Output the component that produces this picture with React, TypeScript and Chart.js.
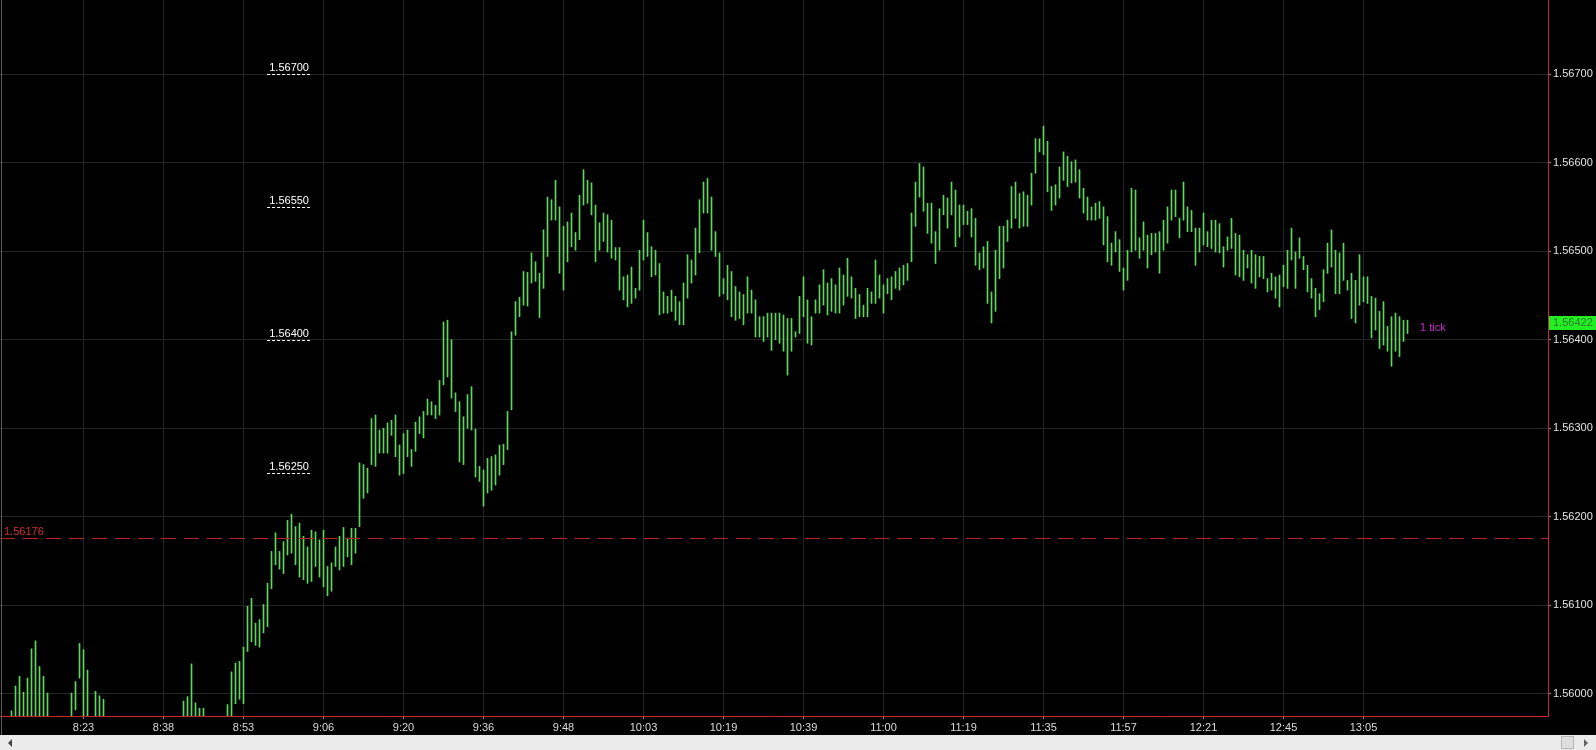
import React, { useEffect, useRef } from 'react';
import { Chart, registerables } from 'chart.js';

Chart.register(...registerables);

// ---- data (1 bar = one slot on the x axis) ----
const barHigh: (number | null)[] = [
  null, null, 1.55981, 1.56009, 1.56020, 1.56002, 1.56018, 1.56051, 1.56060, 1.56031,
  1.56020, 1.56001, null, null, null, null, null, 1.56001, 1.56014, 1.56057,
  1.56050, 1.56027, null, 1.56003, 1.55998, 1.55994, null, null, null, null,
  null, null, null, null, null, null, null, null, null, null,
  null, null, null, null, null, 1.55992, 1.55997, 1.56034, 1.55990, 1.55984,
  1.55984, null, null, null, null, null, 1.55988, 1.56025, 1.56035, 1.56037,
  1.56053, 1.56099, 1.56108, 1.56080, 1.56084, 1.56101, 1.56125, 1.56161, 1.56182, 1.56161,
  1.56172, 1.56196, 1.56203, 1.56189, 1.56193, 1.56178, 1.56166, 1.56185, 1.56183, 1.56174,
  1.56185, 1.56144, 1.56148, 1.56166, 1.56178, 1.56188, 1.56176, 1.56187, 1.56187, 1.56261,
  1.56259, 1.56255, 1.56311, 1.56315, 1.56298, 1.56300, 1.56306, 1.56309, 1.56315, 1.56281,
  1.56294, 1.56298, 1.56276, 1.56307, 1.56313, 1.56319, 1.56333, 1.56330, 1.56326, 1.56354,
  1.56420, 1.56422, 1.56400, 1.56340, 1.56330, 1.56313, 1.56338, 1.56347, 1.56299, 1.56257,
  1.56253, 1.56266, 1.56268, 1.56270, 1.56281, 1.56282, 1.56319, 1.56409, 1.56443, 1.56448,
  1.56477, 1.56476, 1.56498, 1.56488, 1.56475, 1.56524, 1.56561, 1.56558, 1.56580, 1.56550,
  1.56528, 1.56533, 1.56543, 1.56521, 1.56563, 1.56592, 1.56580, 1.56577, 1.56552, 1.56532,
  1.56543, 1.56541, 1.56535, 1.56504, 1.56504, 1.56471, 1.56473, 1.56482, 1.56458, 1.56501,
  1.56535, 1.56521, 1.56505, 1.56501, 1.56486, 1.56454, 1.56449, 1.56456, 1.56449, 1.56443,
  1.56464, 1.56496, 1.56490, 1.56526, 1.56558, 1.56578, 1.56582, 1.56561, 1.56522, 1.56498,
  1.56469, 1.56484, 1.56477, 1.56460, 1.56454, 1.56451, 1.56471, 1.56456, 1.56445, 1.56426,
  1.56426, 1.56430, 1.56430, 1.56430, 1.56430, 1.56428, 1.56424, 1.56424, 1.56409, 1.56449,
  1.56471, 1.56445, 1.56426, 1.56445, 1.56462, 1.56479, 1.56464, 1.56469, 1.56462, 1.56481,
  1.56473, 1.56492, 1.56471, 1.56458, 1.56451, 1.56439, 1.56458, 1.56454, 1.56490, 1.56473,
  1.56462, 1.56469, 1.56471, 1.56477, 1.56481, 1.56484, 1.56486, 1.56543, 1.56578, 1.56599,
  1.56595, 1.56554, 1.56554, 1.56522, 1.56548, 1.56563, 1.56560, 1.56578, 1.56569, 1.56552,
  1.56552, 1.56545, 1.56548, 1.56537, 1.56498, 1.56505, 1.56511, 1.56454, 1.56501, 1.56528,
  1.56528, 1.56535, 1.56573, 1.56578, 1.56565, 1.56567, 1.56563, 1.56588, 1.56627, 1.56627,
  1.56641, 1.56624, 1.56573, 1.56575, 1.56595, 1.56612, 1.56607, 1.56601, 1.56603, 1.56592,
  1.56571, 1.56561, 1.56550, 1.56554, 1.56556, 1.56550, 1.56539, 1.56509, 1.56522, 1.56513,
  1.56481, 1.56501, 1.56571, 1.56569, 1.56515, 1.56533, 1.56518, 1.56520, 1.56520, 1.56522,
  1.56535, 1.56550, 1.56569, 1.56569, 1.56537, 1.56578, 1.56550, 1.56546, 1.56526, 1.56526,
  1.56543, 1.56522, 1.56535, 1.56535, 1.56531, 1.56505, 1.56516, 1.56537, 1.56520, 1.56518,
  1.56501, 1.56496, 1.56501, 1.56496, 1.56494, 1.56494, 1.56469, 1.56475, 1.56471, 1.56473,
  1.56484, 1.56501, 1.56526, 1.56499, 1.56515, 1.56494, 1.56484, 1.56469, 1.56458, 1.56452,
  1.56479, 1.56509, 1.56524, 1.56501, 1.56498, 1.56509, 1.56467, 1.56475, 1.56467, 1.56496,
  1.56471, 1.56471, 1.56449, 1.56447, 1.56432, 1.56443, 1.56415, 1.56426, 1.56430, 1.56426,
  1.56422, 1.56422,
];

const barLow: (number | null)[] = [
  null, null, 1.55970, 1.55970, 1.55970, 1.55970, 1.55970, 1.55970, 1.55970, 1.55970,
  1.55970, 1.55970, null, null, null, null, null, 1.55970, 1.55982, 1.56018,
  1.55970, 1.55970, null, 1.55970, 1.55970, 1.55970, null, null, null, null,
  null, null, null, null, null, null, null, null, null, null,
  null, null, null, null, null, 1.55970, 1.55970, 1.55970, 1.55970, 1.55970,
  1.55970, null, null, null, null, null, 1.55970, 1.55970, 1.55989, 1.55994,
  1.55989, 1.56048, 1.56059, 1.56055, 1.56053, 1.56069, 1.56076, 1.56119, 1.56146, 1.56141,
  1.56136, 1.56157, 1.56159, 1.56146, 1.56132, 1.56129, 1.56125, 1.56127, 1.56144, 1.56132,
  1.56121, 1.56111, 1.56116, 1.56144, 1.56140, 1.56144, 1.56155, 1.56146, 1.56159, 1.56189,
  1.56221, 1.56227, 1.56259, 1.56257, 1.56272, 1.56272, 1.56272, 1.56292, 1.56268, 1.56247,
  1.56249, 1.56268, 1.56257, 1.56274, 1.56294, 1.56289, 1.56315, 1.56315, 1.56311, 1.56315,
  1.56349, 1.56358, 1.56334, 1.56319, 1.56262, 1.56259, 1.56300, 1.56298, 1.56245, 1.56240,
  1.56212, 1.56227, 1.56230, 1.56236, 1.56247, 1.56259, 1.56276, 1.56321, 1.56405, 1.56426,
  1.56439, 1.56438, 1.56464, 1.56466, 1.56425, 1.56458, 1.56494, 1.56535, 1.56535, 1.56475,
  1.56456, 1.56488, 1.56505, 1.56501, 1.56513, 1.56552, 1.56554, 1.56541, 1.56488, 1.56501,
  1.56511, 1.56499, 1.56492, 1.56490, 1.56456, 1.56445, 1.56437, 1.56441, 1.56447, 1.56456,
  1.56490, 1.56494, 1.56471, 1.56473, 1.56428, 1.56430, 1.56430, 1.56432, 1.56422, 1.56417,
  1.56417, 1.56447, 1.56464, 1.56473, 1.56498, 1.56543, 1.56543, 1.56501, 1.56494, 1.56449,
  1.56452, 1.56445, 1.56426, 1.56422, 1.56424, 1.56417, 1.56430, 1.56430, 1.56403, 1.56403,
  1.56398, 1.56403, 1.56388, 1.56400, 1.56396, 1.56387, 1.56360, 1.56387, 1.56403, 1.56407,
  1.56426, 1.56396, 1.56394, 1.56430, 1.56430, 1.56439, 1.56428, 1.56432, 1.56430, 1.56430,
  1.56439, 1.56449, 1.56447, 1.56424, 1.56426, 1.56426, 1.56426, 1.56441, 1.56441, 1.56447,
  1.56430, 1.56452, 1.56445, 1.56458, 1.56456, 1.56462, 1.56467, 1.56488, 1.56528, 1.56561,
  1.56545, 1.56520, 1.56509, 1.56486, 1.56501, 1.56541, 1.56526, 1.56541, 1.56505, 1.56516,
  1.56530, 1.56530, 1.56516, 1.56484, 1.56479, 1.56481, 1.56441, 1.56419, 1.56432, 1.56469,
  1.56481, 1.56511, 1.56526, 1.56537, 1.56526, 1.56528, 1.56528, 1.56552, 1.56588, 1.56612,
  1.56609, 1.56567, 1.56546, 1.56552, 1.56560, 1.56580, 1.56573, 1.56577, 1.56578, 1.56560,
  1.56543, 1.56535, 1.56535, 1.56535, 1.56537, 1.56507, 1.56488, 1.56484, 1.56499, 1.56477,
  1.56456, 1.56467, 1.56499, 1.56501, 1.56492, 1.56501, 1.56481, 1.56496, 1.56499, 1.56475,
  1.56501, 1.56509, 1.56535, 1.56539, 1.56515, 1.56535, 1.56522, 1.56522, 1.56484, 1.56499,
  1.56507, 1.56505, 1.56503, 1.56499, 1.56498, 1.56482, 1.56501, 1.56503, 1.56473, 1.56471,
  1.56467, 1.56481, 1.56464, 1.56458, 1.56471, 1.56469, 1.56454, 1.56456, 1.56447, 1.56437,
  1.56460, 1.56458, 1.56490, 1.56458, 1.56492, 1.56479, 1.56454, 1.56447, 1.56426, 1.56434,
  1.56443, 1.56475, 1.56482, 1.56452, 1.56452, 1.56467, 1.56456, 1.56424, 1.56419, 1.56439,
  1.56443, 1.56441, 1.56402, 1.56411, 1.56390, 1.56394, 1.56387, 1.56370, 1.56387, 1.56381,
  1.56398, 1.56407,
];

const xLabelBars = [20, 40, 60, 80, 100, 120, 140, 160, 180, 200, 220, 240, 260, 280, 300, 320, 340];
const xTimeLabels = ['8:23', '8:38', '8:53', '9:06', '9:20', '9:36', '9:48', '10:03', '10:19', '10:39', '11:00', '11:19', '11:35', '11:57', '12:21', '12:45', '13:05'];
const yTicks = [1.56, 1.561, 1.562, 1.563, 1.564, 1.565, 1.566, 1.567];
const levelPrices = [1.567, 1.5655, 1.564, 1.5625];
const refLinePrice = 1.56176;
const lastPrice = 1.56422;
const tickLabel = '1 tick';

const FONT = 'Arial, "Liberation Sans", sans-serif';

export default function App() {
  const canvasRef = useRef<HTMLCanvasElement>(null);

  useEffect(() => {
    const canvas = canvasRef.current;
    if (!canvas) return;

    const data: any[] = [];
    barHigh.forEach((h, i) => {
      const l = barLow[i];
      if (h != null && l != null) data.push({ x: i, y: [l, h] });
    });

    const overlay = {
      id: 'overlay',
      afterDatasetsDraw(chart: any) {
        const { ctx, chartArea, scales } = chart;
        const xs = scales.x;
        const ys = scales.y;
        ctx.save();
        ctx.font = `11px ${FONT}`;
        ctx.textBaseline = 'middle';

        // red dashed reference line
        const ry = Math.round(ys.getPixelForValue(refLinePrice)) + 0.5;
        ctx.strokeStyle = '#b42424';
        ctx.lineWidth = 1;
        ctx.setLineDash([15, 8]);
        ctx.beginPath();
        ctx.moveTo(chartArea.left, ry);
        ctx.lineTo(chartArea.right, ry);
        ctx.stroke();
        ctx.setLineDash([]);
        ctx.fillStyle = '#d23030';
        ctx.textAlign = 'left';
        ctx.fillText(refLinePrice.toFixed(5), chartArea.left + 4, ry - 6.5);

        // white dashed price levels
        const x0 = xs.getPixelForValue(65.9);
        const x1 = xs.getPixelForValue(76.9);
        ctx.strokeStyle = '#ffffff';
        ctx.setLineDash([3, 2]);
        ctx.fillStyle = '#ffffff';
        ctx.textAlign = 'center';
        for (const p of levelPrices) {
          const ly = Math.round(ys.getPixelForValue(p)) + 0.5;
          ctx.beginPath();
          ctx.moveTo(x0, ly);
          ctx.lineTo(x1, ly);
          ctx.stroke();
          ctx.fillText(p.toFixed(5), (x0 + x1) / 2, ly - 7);
        }
        ctx.setLineDash([]);

        // last price box on the axis
        const lp = ys.getPixelForValue(lastPrice);
        ctx.fillStyle = '#22ee22';
        ctx.fillRect(chartArea.right + 1, Math.round(lp) - 4, 47, 14);
        ctx.fillStyle = '#2e7a2e';
        ctx.textAlign = 'left';
        ctx.fillText(lastPrice.toFixed(5), chartArea.right + 5, lp + 3);

        // "1 tick" label
        ctx.fillStyle = '#cc22cc';
        ctx.fillText(tickLabel, xs.getPixelForValue(barHigh.length - 1) + 12.5, lp + 8);
        ctx.restore();
      },
    };

    const chart = new Chart(canvas, {
      type: 'bar',
      data: {
        datasets: [
          {
            data,
            backgroundColor: '#5ed858',
            borderWidth: 0,
            barThickness: 1,
          } as any,
        ],
      },
      options: {
        animation: false,
        responsive: false,
        devicePixelRatio: 1,
        layout: { padding: 0 },
        plugins: { legend: { display: false }, tooltip: { enabled: false } },
        scales: {
          x: {
            type: 'linear',
            min: -0.875,
            max: 386.125,
            offset: false,
            afterBuildTicks: (s: any) => {
              s.ticks = xLabelBars.map((v) => ({ value: v }));
            },
            afterFit: (s: any) => {
              s.height = 19;
              s.paddingLeft = 0;
              s.paddingRight = 0;
            },
            grid: { color: '#262626', tickColor: '#8a8a8a', tickLength: 3, offset: false },
            border: { color: '#d02828', width: 1 },
            ticks: {
              color: '#dcdcdc',
              font: { family: FONT, size: 11 },
              padding: 2,
              maxRotation: 0,
              autoSkip: false,
              callback: (v: any) => {
                const k = xLabelBars.indexOf(Number(v));
                return k >= 0 ? xTimeLabels[k] : '';
              },
            },
          } as any,
          y: {
            position: 'right',
            min: 1.5597516,
            max: 1.5678355,
            afterBuildTicks: (s: any) => {
              s.ticks = yTicks.map((v) => ({ value: v }));
            },
            afterFit: (s: any) => {
              s.width = 48;
              s.paddingTop = 0;
              s.paddingBottom = 0;
            },
            grid: { color: '#262626', tickColor: '#8a8a8a', tickLength: 3 },
            border: { color: '#d02828', width: 1 },
            ticks: {
              color: '#e4e4e4',
              font: { family: FONT, size: 11 },
              padding: 2,
              callback: (v: any) => Number(v).toFixed(5),
            },
          } as any,
        },
      },
      plugins: [overlay],
    });

    return () => chart.destroy();
  }, []);

  return (
    <div style={{ position: 'fixed', left: 0, top: 0, width: 1596, height: 750, background: '#000', overflow: 'hidden' }}>
      <canvas ref={canvasRef} width={1596} height={735} style={{ position: 'absolute', left: 0, top: 0, width: 1596, height: 735 }} />
      <div style={{ position: 'absolute', left: 1, top: 0, width: 1, height: 735, background: '#5c5c5c' }} />
      <div style={{ position: 'absolute', left: 0, top: 735, width: 1596, height: 15, background: '#ebebeb' }}>
        <div style={{ position: 'absolute', left: 8, top: 4, width: 0, height: 0, borderTop: '4px solid transparent', borderBottom: '4px solid transparent', borderRight: '4px solid #444' }} />
        <div style={{ position: 'absolute', left: 1561, top: 1, width: 13, height: 13, background: '#dedede', border: '1px solid #b8b8b8', boxSizing: 'border-box' }} />
        <div style={{ position: 'absolute', left: 1584, top: 4, width: 0, height: 0, borderTop: '4px solid transparent', borderBottom: '4px solid transparent', borderLeft: '4px solid #666' }} />
      </div>
    </div>
  );
}
